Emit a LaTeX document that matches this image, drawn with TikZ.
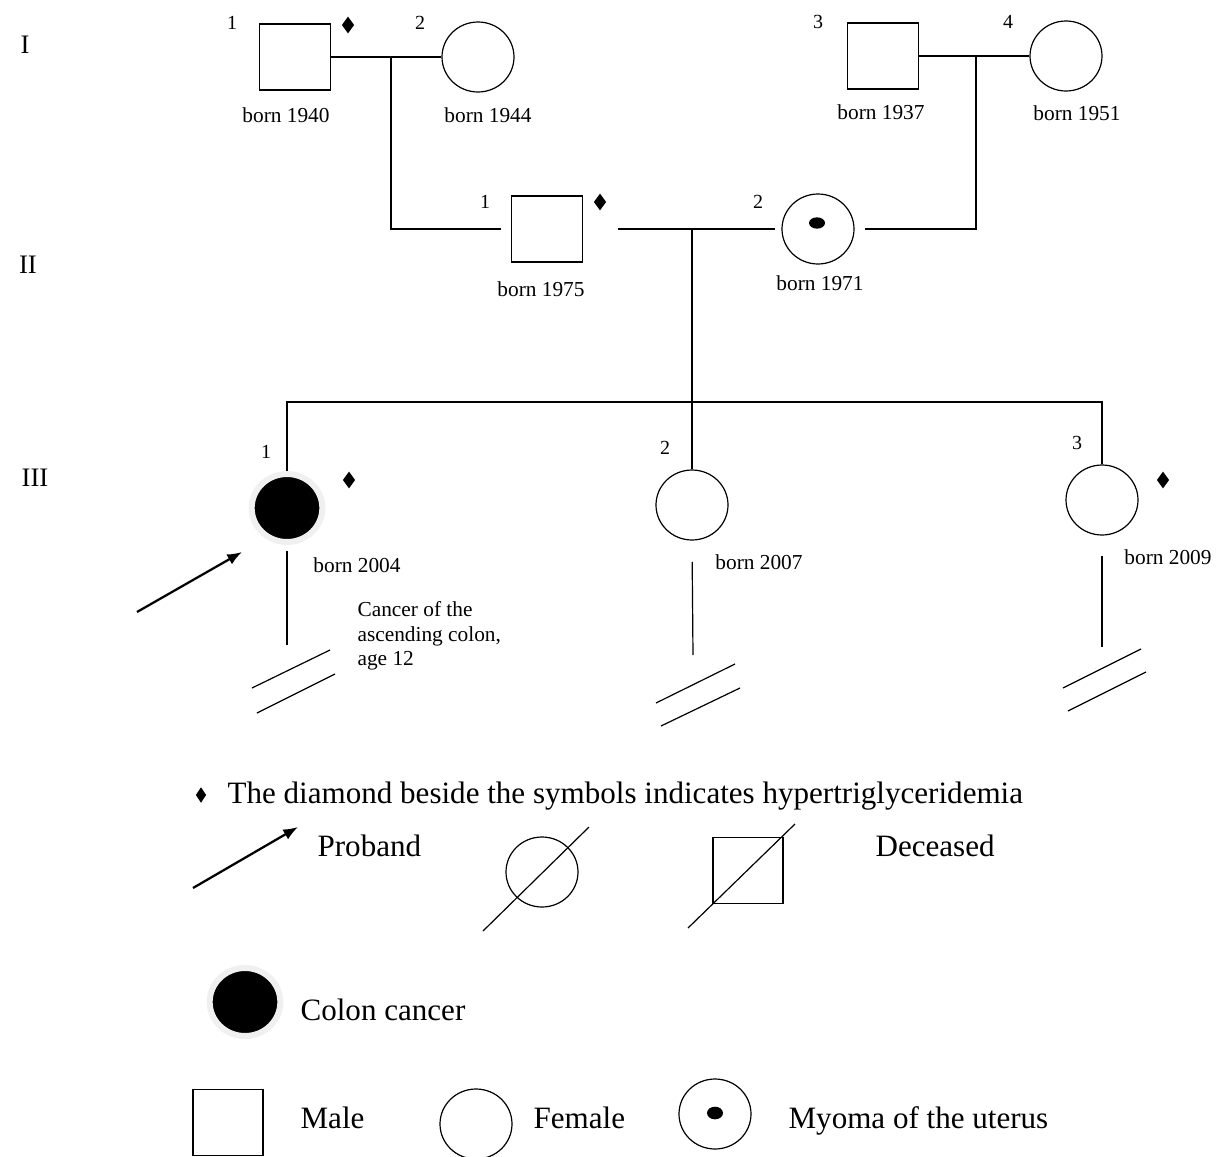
\documentclass[tikz,border=0pt]{standalone}
\usepackage{fontspec}
\setmainfont{Liberation Serif}
\usetikzlibrary{shapes.geometric,arrows.meta}

\tikzset{every picture/.style={line width=0.9pt}}
\tikzset{
 male/.style={draw, rectangle, inner sep=0pt, minimum width=53.25pt, minimum height=49.5pt},
 female/.style={draw, ellipse, inner sep=0pt, minimum width=54pt, minimum height=52.5pt},
 affected/.style={ellipse, fill=black, draw=black!6, line width=4.5pt, inner sep=0pt, minimum width=53pt, minimum height=51pt},
 myoma/.style={ellipse, fill=black, inner sep=0pt, minimum width=12pt, minimum height=8.5pt},
 hyper/.style={diamond, fill=black, inner sep=0pt, minimum width=9.5pt, minimum height=13pt},
 num/.style={font=\fontsize{15}{17}\selectfont},
 born/.style={font=\fontsize{16}{18.5}\selectfont},
 gen/.style={font=\fontsize{20}{24}\selectfont},
 legend/.style={font=\fontsize{23.3}{28}\selectfont, anchor=base west, inner sep=0pt},
 proband/.style={-{Latex[length=11pt,width=8.5pt]}, line width=1.7pt},
}

\begin{document}
\begin{tikzpicture}[x=0.75pt,y=0.75pt,yscale=-1,xscale=1]
\useasboundingbox (0,0) rectangle (1218,1157);

%Generations
\node[gen] (gI) at (25,45) {I};
\node[gen] (gII) at (28,265) {II};
\node[gen] (gIII) at (35,478) {III};

%Generation I
\node[male] (I1) at (295,57) {};
\node[female] (I2) at (478,57) {};
\node[male] (I3) at (883,56) {};
\node[female] (I4) at (1066,56) {};
\node[num] (n11) at (232,23) {1};
\node[num] (n12) at (420,23) {2};
\node[num] (n13) at (818,22) {3};
\node[num] (n14) at (1008,22) {4};
\node[hyper] (h11) at (348,25) {};
\node[born] (b11) at (286,115) {born 1940};
\node[born] (b12) at (488,115) {born 1944};
\node[born] (b13) at (881,112) {born 1937};
\node[born] (b14) at (1077,113) {born 1951};

%Generation II
\node[male] (II1) at (547,229) {};
\node[female] (II2) at (818,229) {};
\node[myoma] (my) at (817,223) {};
\node[num] (n21) at (485,202) {1};
\node[num] (n22) at (758,202) {2};
\node[hyper] (h21) at (600,202) {};
\node[born] (b21) at (541,289) {born 1975};
\node[born] (b22) at (820,283) {born 1971};

%Generation III
\node[affected] (III1) at (287,508) {};
\node[female] (III2) at (692,505) {};
\node[female] (III3) at (1102,500) {};
\node[num] (n31) at (266,452) {1};
\node[num] (n32) at (665,448) {2};
\node[num] (n33) at (1077,443) {3};
\node[hyper] (h31) at (349,480) {};
\node[hyper] (h33) at (1163,480) {};
\node[born] (b31) at (357,565) {born 2004};
\node[born] (b32) at (759,562) {born 2007};
\node[born] (b33) at (1168,557) {born 2009};
\node[born, align=left, anchor=west, inner sep=0pt] (cc) at (357,636) {Cancer of the\\ascending colon,\\age 12};

%Lines of descent
\coordinate (u12) at (391,57);
\coordinate (u34) at (976,56);
\coordinate (u56) at (692,229);
\coordinate (sibL) at (287,402);
\coordinate (sibR) at (1102,402);
\draw (I1.east) -- (I2.west);
\draw (I3.east) -- (I4.west);
\draw[shorten >=7.5pt] (u12) |- (II1.west);
\draw[shorten >=7.5pt] (u34) |- (II2.east);
\draw[shorten <=26pt, shorten >=5pt] (II1.east) -- (II2.west);
\draw (u56) -- (III2.north);
\draw (III1.north) -- (sibL) -- (sibR) -- (III3.north);

%Lines to the breaks
\coordinate (d1) at (287,645);
\coordinate (d2) at (693,655);
\coordinate (d3) at (1102,647);
\draw[shorten <=4.5pt] (III1.south) -- (d1);
\draw[shorten <=16pt] (III2.south) -- (d2);
\draw[shorten <=15pt] (III3.south) -- (d3);
\draw (252,688) -- (330,650) (257,713) -- (335,674);
\draw (656,703) -- (735,664) (661,726) -- (740,688);
\draw (1063,688) -- (1141,649) (1068,711) -- (1146,672);

%Proband arrow
\coordinate (pa1) at (137,612);
\coordinate (pa2) at (242,552);
\draw[proband] (pa1) -- (pa2);

%Legend
\node[hyper, minimum width=8pt, minimum height=12pt] (lh) at (201,795) {};
\node[legend] (lht) at (227,803) {The diamond beside the symbols indicates hypertriglyceridemia};
\coordinate (la1) at (193,888);
\coordinate (la2) at (298,827);
\draw[proband] (la1) -- (la2);
\node[legend] (lpt) at (317,856) {Proband};
\node[female] (ldf) at (542,872) {};
\draw (483,931) -- (589,827);
\node[male, minimum width=52.5pt, minimum height=50pt] (ldm) at (748,870.5) {};
\draw (688,928) -- (795,824);
\node[legend] (ldt) at (875,856) {Deceased};
\node[affected] (lcc) at (245,1002) {};
\node[legend] (lcct) at (300,1020) {Colon cancer};
\node[male, minimum width=52.5pt, minimum height=50pt] (lm) at (228,1122.5) {};
\node[legend] (lmt) at (300,1128) {Male};
\node[female] (lf) at (476,1124) {};
\node[legend] (lft) at (533,1128) {Female};
\node[female] (lmy) at (715,1114) {};
\node[myoma, minimum height=9.5pt] (lmyd) at (715,1113) {};
\node[legend] (lmyt) at (788,1128) {Myoma of the uterus};

\end{tikzpicture}
\end{document}
